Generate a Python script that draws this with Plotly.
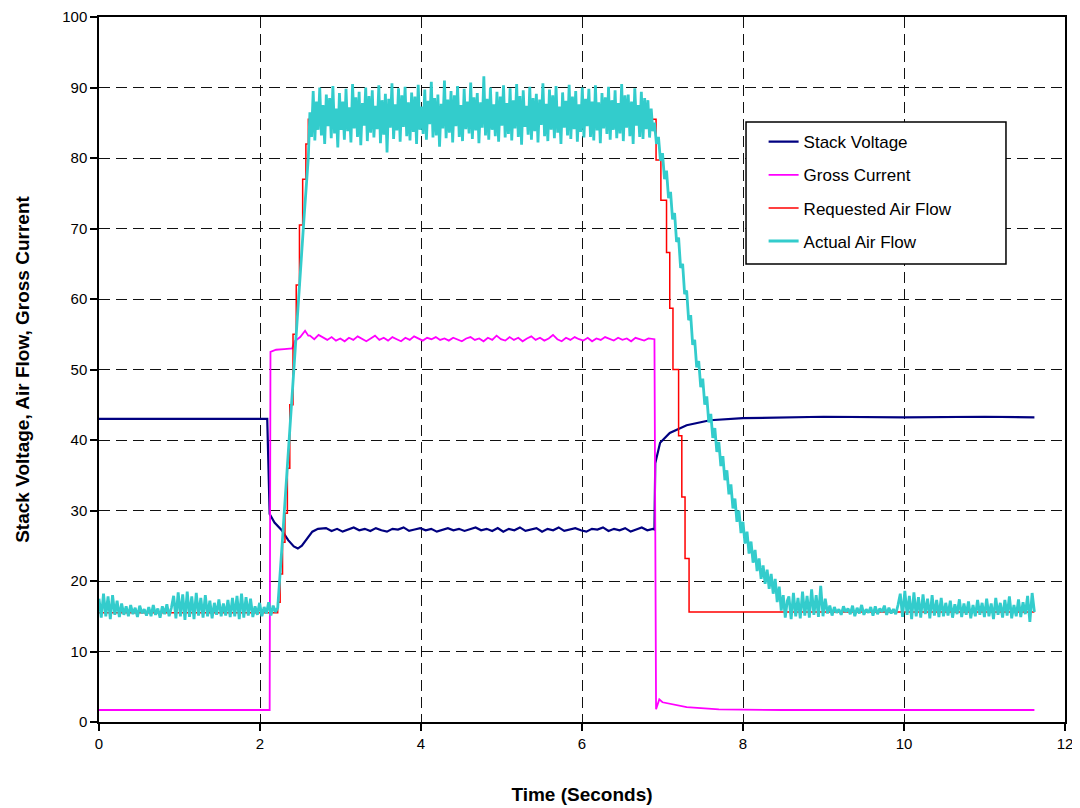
import numpy as np
import plotly.graph_objects as go

# ---------------- Stack Voltage ----------------
sv_t_start = [0.0, 2.09, 2.12, 2.18, 2.27, 2.35, 2.42, 2.47, 2.52, 2.58, 2.65, 2.72, 2.80]
sv_v_start = [43.0, 43.0, 29.5, 28.3, 27.2, 25.8, 24.9, 24.6, 25.0, 26.0, 27.0, 27.4, 27.5]
sv_plateau = [27.5, 27.1, 27.4, 27.0, 27.3, 27.6, 27.2, 27.4, 27.1, 27.5,
              27.2, 27.0, 27.4, 27.3, 27.6, 27.1, 27.3, 27.5, 27.2, 27.4,
              27.0, 27.3, 27.5, 27.2, 27.4, 27.1, 27.3, 27.6, 27.2, 27.4,
              27.1, 27.5, 27.0, 27.4, 27.2, 27.6, 27.1, 27.3, 27.5, 27.0,
              27.4, 27.2, 27.6, 27.1, 27.3, 27.5, 27.2, 27.0, 27.4, 27.3,
              27.6, 27.1, 27.4, 27.2, 27.5, 27.0, 27.3, 27.6, 27.2, 27.4]
sv_plateau_span = [2.82, 6.88]
sv_t_end = [6.90, 6.91, 6.97, 7.09, 7.30, 7.59, 8.00, 8.50, 9.00, 10.00, 11.00, 11.62]
sv_v_end = [27.3, 36.7, 39.6, 41.0, 42.1, 42.8, 43.1, 43.2, 43.3, 43.2, 43.3, 43.2]

# ---------------- Gross Current ----------------
gc_t_start = [0.0, 2.12, 2.13, 2.20, 2.30, 2.40, 2.43, 2.50, 2.56, 2.60]
gc_v_start = [1.7, 1.7, 52.5, 52.8, 52.9, 53.0, 54.0, 54.6, 55.5, 54.8]
gc_plateau = [54.8, 54.3, 54.9, 54.5, 54.2, 54.6, 54.1, 54.4, 54.0, 54.5,
              54.2, 54.7, 54.3, 54.0, 54.4, 54.8, 54.2, 54.5, 54.1, 54.6,
              54.3, 54.0, 54.5, 54.2, 54.7, 54.4, 54.1, 54.5, 54.3, 54.6,
              54.2, 54.4, 54.1, 54.5, 54.3, 54.0, 54.4, 54.6, 54.2, 54.4,
              54.0, 54.5, 54.2, 54.8, 54.3, 54.1, 54.6, 54.2, 54.5, 54.0,
              54.4, 54.7, 54.2, 54.5, 54.1, 54.4, 54.9, 54.3, 54.0, 54.5,
              54.2, 54.6, 54.3, 54.1, 54.5, 54.0, 54.4, 54.2, 54.6, 54.3,
              54.1, 54.5, 54.2, 54.4, 54.0, 54.5, 54.3, 54.1, 54.4, 54.3]
gc_plateau_span = [2.62, 6.88]
gc_t_end = [6.90, 6.92, 6.96, 7.00, 7.30, 7.70, 8.50, 11.62]
gc_v_end = [54.3, 1.8, 3.2, 2.8, 2.1, 1.8, 1.7, 1.7]

# ---------------- Requested Air Flow (stepped) ----------------
ra_t = [0.0, 2.22, 2.25, 2.28, 2.31, 2.34, 2.37, 2.41, 2.45, 2.49, 2.53, 2.57, 2.60,
        6.92, 6.98, 7.05, 7.09, 7.13, 7.20, 7.24, 7.28, 7.33, 11.62]
ra_v = [15.5, 17.0, 21.0, 25.5, 29.6, 36.0, 45.0, 55.0, 62.0, 70.5, 77.0, 82.0, 85.5,
        79.7, 74.0, 66.6, 58.7, 50.0, 40.6, 31.9, 23.2, 15.6, 15.6]

# ---------------- Actual Air Flow ----------------
af_pre = [17.5, 14.8, 18.2, 15.0, 17.8, 14.6, 18.0, 15.2, 17.2, 14.9, 16.8,
          15.2, 16.4, 15.0, 16.6, 15.3, 16.2, 14.9, 16.5, 15.4, 16.0, 15.1,
          16.3, 15.0, 16.6, 15.2, 16.1, 14.8, 16.4, 15.3, 16.7, 15.0, 16.2,
          17.9, 14.7, 18.4, 15.0, 18.1, 14.5, 18.5, 14.9, 17.8, 14.6, 18.3,
          15.1, 17.6, 14.8, 18.0, 15.0, 17.2, 14.7, 16.9, 15.2, 17.4, 15.0,
          16.8, 15.1, 17.3, 14.9, 17.6, 15.0, 17.9, 14.6, 18.2, 14.8, 17.7,
          15.1, 17.5, 14.9,
          16.4, 15.2, 16.9, 15.0, 16.3, 15.4, 17.0, 15.1, 16.5, 15.6, 16.2]
af_pre_span = [0.0, 2.22]
af_ramp_t = [2.27, 2.36, 2.46, 2.55, 2.60]
af_ramp_v = [24.4, 40.0, 57.0, 72.0, 80.0]
af_plateau = [
    86.5, 83.0, 89.5, 82.5, 88.0, 84.0, 90.0, 83.2, 87.5, 82.0, 89.0, 84.5, 88.5, 82.8, 90.2, 83.5, 87.0, 81.5, 89.2, 84.0,
    88.0, 82.6, 89.8, 83.8, 87.2, 82.2, 90.5, 84.2, 88.6, 83.0, 89.4, 81.8, 87.8, 84.6, 90.0, 82.4, 88.8, 83.6, 89.6, 82.9,
    87.4, 84.1, 90.3, 82.1, 88.2, 83.3, 89.1, 80.8, 88.4, 84.3, 90.6, 82.7, 87.6, 83.9, 89.9, 82.3, 88.9, 84.4, 90.1, 83.1,
    87.9, 82.5, 89.3, 83.7, 88.7, 82.0, 90.4, 84.0, 87.3, 83.4, 89.7, 82.6, 88.1, 84.8, 90.8, 82.9, 88.5, 83.2, 89.0, 81.6,
    87.7, 84.2, 91.0, 82.8, 88.3, 83.6, 89.5, 82.2, 88.9, 84.5, 90.2, 83.0, 87.5, 82.4, 89.8, 84.1, 88.0, 83.5, 90.7, 82.7,
    88.6, 83.9, 89.2, 82.1, 87.9, 84.3, 91.6, 83.2, 88.4, 82.6, 90.0, 84.0, 87.6, 83.1, 89.4, 82.3, 88.7, 84.6, 90.3, 82.9,
    87.8, 83.4, 89.9, 82.5, 88.2, 84.2, 90.5, 83.0, 88.8, 81.9, 89.6, 84.4, 87.4, 83.3, 90.1, 82.6, 88.5, 83.8, 89.1, 82.2,
    88.3, 84.7, 90.6, 83.1, 87.7, 82.4, 89.7, 84.0, 88.9, 82.8, 90.2, 83.6, 87.3, 82.0, 89.3, 84.3, 88.1, 83.2, 90.4, 82.7,
    88.7, 84.1, 89.5, 82.3, 87.6, 83.7, 90.0, 82.9, 88.4, 84.5, 89.8, 83.0, 88.0, 82.5, 90.3, 83.9, 87.9, 82.1, 89.2, 84.2,
    88.6, 83.4, 90.1, 82.6, 88.2, 84.0, 89.6, 82.8, 87.8, 83.5, 90.5, 82.4, 88.9, 84.3, 89.0, 83.1, 88.0, 82.0, 89.9, 84.6,
    87.5, 83.0, 89.4, 82.7, 88.5, 84.1, 88.2, 82.9, 87.0, 83.8]
af_plateau_span = [2.62, 6.88]
af_decline = [85.0, 82.0, 83.0, 79.6, 80.7, 77.0, 78.2, 74.3, 75.2, 71.3,
              72.2, 68.1, 68.7, 64.4, 65.0, 60.7, 61.2, 57.0, 57.7, 53.5,
              54.2, 50.3, 51.2, 47.5, 48.7, 45.0, 46.2, 42.5, 43.7, 40.3,
              41.7, 38.3, 39.7, 36.3, 37.7, 34.3, 35.7, 32.3, 33.7, 30.3,
              31.7, 28.4, 30.0, 26.8, 28.4, 25.3, 27.0, 23.9, 25.6, 22.6,
              24.4, 21.4, 23.2, 20.3, 22.2, 19.6, 21.6, 18.9, 21.0, 18.2,
              20.3, 17.0, 19.2, 15.8, 18.0, 14.8, 17.2]
af_decline_span = [6.90, 8.55]
af_post = [17.8, 14.6, 18.3, 15.0, 17.6, 14.7, 18.5, 15.1, 17.9, 14.8, 18.8, 15.2, 18.0, 14.9, 19.3, 15.0, 17.5,
           15.4, 16.5, 15.1, 16.3, 15.5, 16.0, 15.2, 16.4, 15.6, 16.1, 15.3, 16.5, 15.0, 16.2, 15.4, 16.6,
           15.2, 16.0, 15.5, 16.3, 15.1, 16.4, 15.3, 16.1, 15.6, 16.5, 15.2, 16.2, 15.4, 16.0, 15.3, 16.6,
           18.2, 14.9, 18.6, 15.2, 17.9, 14.6, 18.4, 15.0, 17.7, 14.8, 18.1, 15.3, 17.5, 14.7, 18.0, 15.1,
           17.3, 14.9, 17.6, 15.0,
           16.9, 15.1, 17.2, 14.8, 16.7, 15.3, 17.4, 14.9, 16.8, 15.2, 17.1, 14.7, 16.6, 15.0, 17.3, 15.2,
           16.9, 14.9,
           17.5, 15.0, 16.8, 14.6, 17.6, 15.2, 16.9, 14.8, 17.3, 15.1, 17.8, 14.7, 16.6, 15.0, 17.4, 14.9,
           17.0, 15.3, 17.9, 14.2, 18.3, 15.6]
af_post_span = [8.57, 11.62]

x_ticks = [0, 2, 4, 6, 8, 10, 12]
y_ticks = [0, 10, 20, 30, 40, 50, 60, 70, 80, 90, 100]


def seg(vals, span):
    return list(np.linspace(span[0], span[1], len(vals)))


sv_t = sv_t_start + seg(sv_plateau, sv_plateau_span) + sv_t_end
sv_v = sv_v_start + sv_plateau + sv_v_end
gc_t = gc_t_start + seg(gc_plateau, gc_plateau_span) + gc_t_end
gc_v = gc_v_start + gc_plateau + gc_v_end
af_t = (seg(af_pre, af_pre_span) + af_ramp_t + seg(af_plateau, af_plateau_span)
        + seg(af_decline, af_decline_span) + seg(af_post, af_post_span))
af_v = af_pre + af_ramp_v + af_plateau + af_decline + af_post

FONT = "Liberation Sans, Arial"

fig = go.Figure()
fig.add_trace(go.Scatter(x=sv_t, y=sv_v, mode="lines", name="Stack Voltage", legendgroup="a",
                         line=dict(color="#000080", width=2.2)))
fig.add_trace(go.Scatter(x=gc_t, y=gc_v, mode="lines", name="Gross Current", legendgroup="b",
                         line=dict(color="#FF00FF", width=1.8)))
fig.add_trace(go.Scatter(x=ra_t, y=ra_v, mode="lines", name="Requested Air Flow", legendgroup="c",
                         line=dict(color="#FF0000", width=1.5, shape="hv")))
fig.add_trace(go.Scatter(x=af_t, y=af_v, mode="lines", name="Actual Air Flow", legendgroup="d",
                         line=dict(color="#33CCCC", width=2.8)))

# legend frame
fig.add_shape(type="rect", xref="paper", yref="paper", x0=0.6698, x1=0.9389, y0=0.6496, y1=0.8511,
              line=dict(color="black", width=1.5), fillcolor="white", layer="above")

axis_common = dict(
    showline=True, linecolor="black", linewidth=1.5, mirror=True,
    ticks="outside", ticklen=7, tickwidth=1.5, tickcolor="black",
    showgrid=True, gridcolor="#111111", gridwidth=1.3, griddash="11px,6px",
    zeroline=False, automargin=False,
    tickfont=dict(family=FONT, size=15, color="black"),
)

# the page body has an 8px default margin; compensate so the plot area lands at x 99-1065, y 17-722
fig.update_layout(
    width=1080, height=808,
    margin=dict(l=91, r=23, t=9, b=94),
    paper_bgcolor="white", plot_bgcolor="white",
    showlegend=True,
    legend=dict(x=0.688, y=0.848, xanchor="left", yanchor="top",
                bgcolor="rgba(0,0,0,0)", borderwidth=0, tracegroupgap=8,
                font=dict(family=FONT, size=17, color="black")),
    xaxis=dict(range=[0, 12], tickvals=x_ticks,
               title=dict(text="<b>Time (Seconds)</b>", standoff=37,
                          font=dict(family=FONT, size=19, color="black")),
               **axis_common),
    yaxis=dict(range=[0, 100], tickvals=y_ticks,
               title=dict(text="<b>Stack Voltage, Air Flow, Gross Current</b>", standoff=28,
                          font=dict(family=FONT, size=19, color="black")),
               **axis_common),
)

fig.write_html("out.html")
